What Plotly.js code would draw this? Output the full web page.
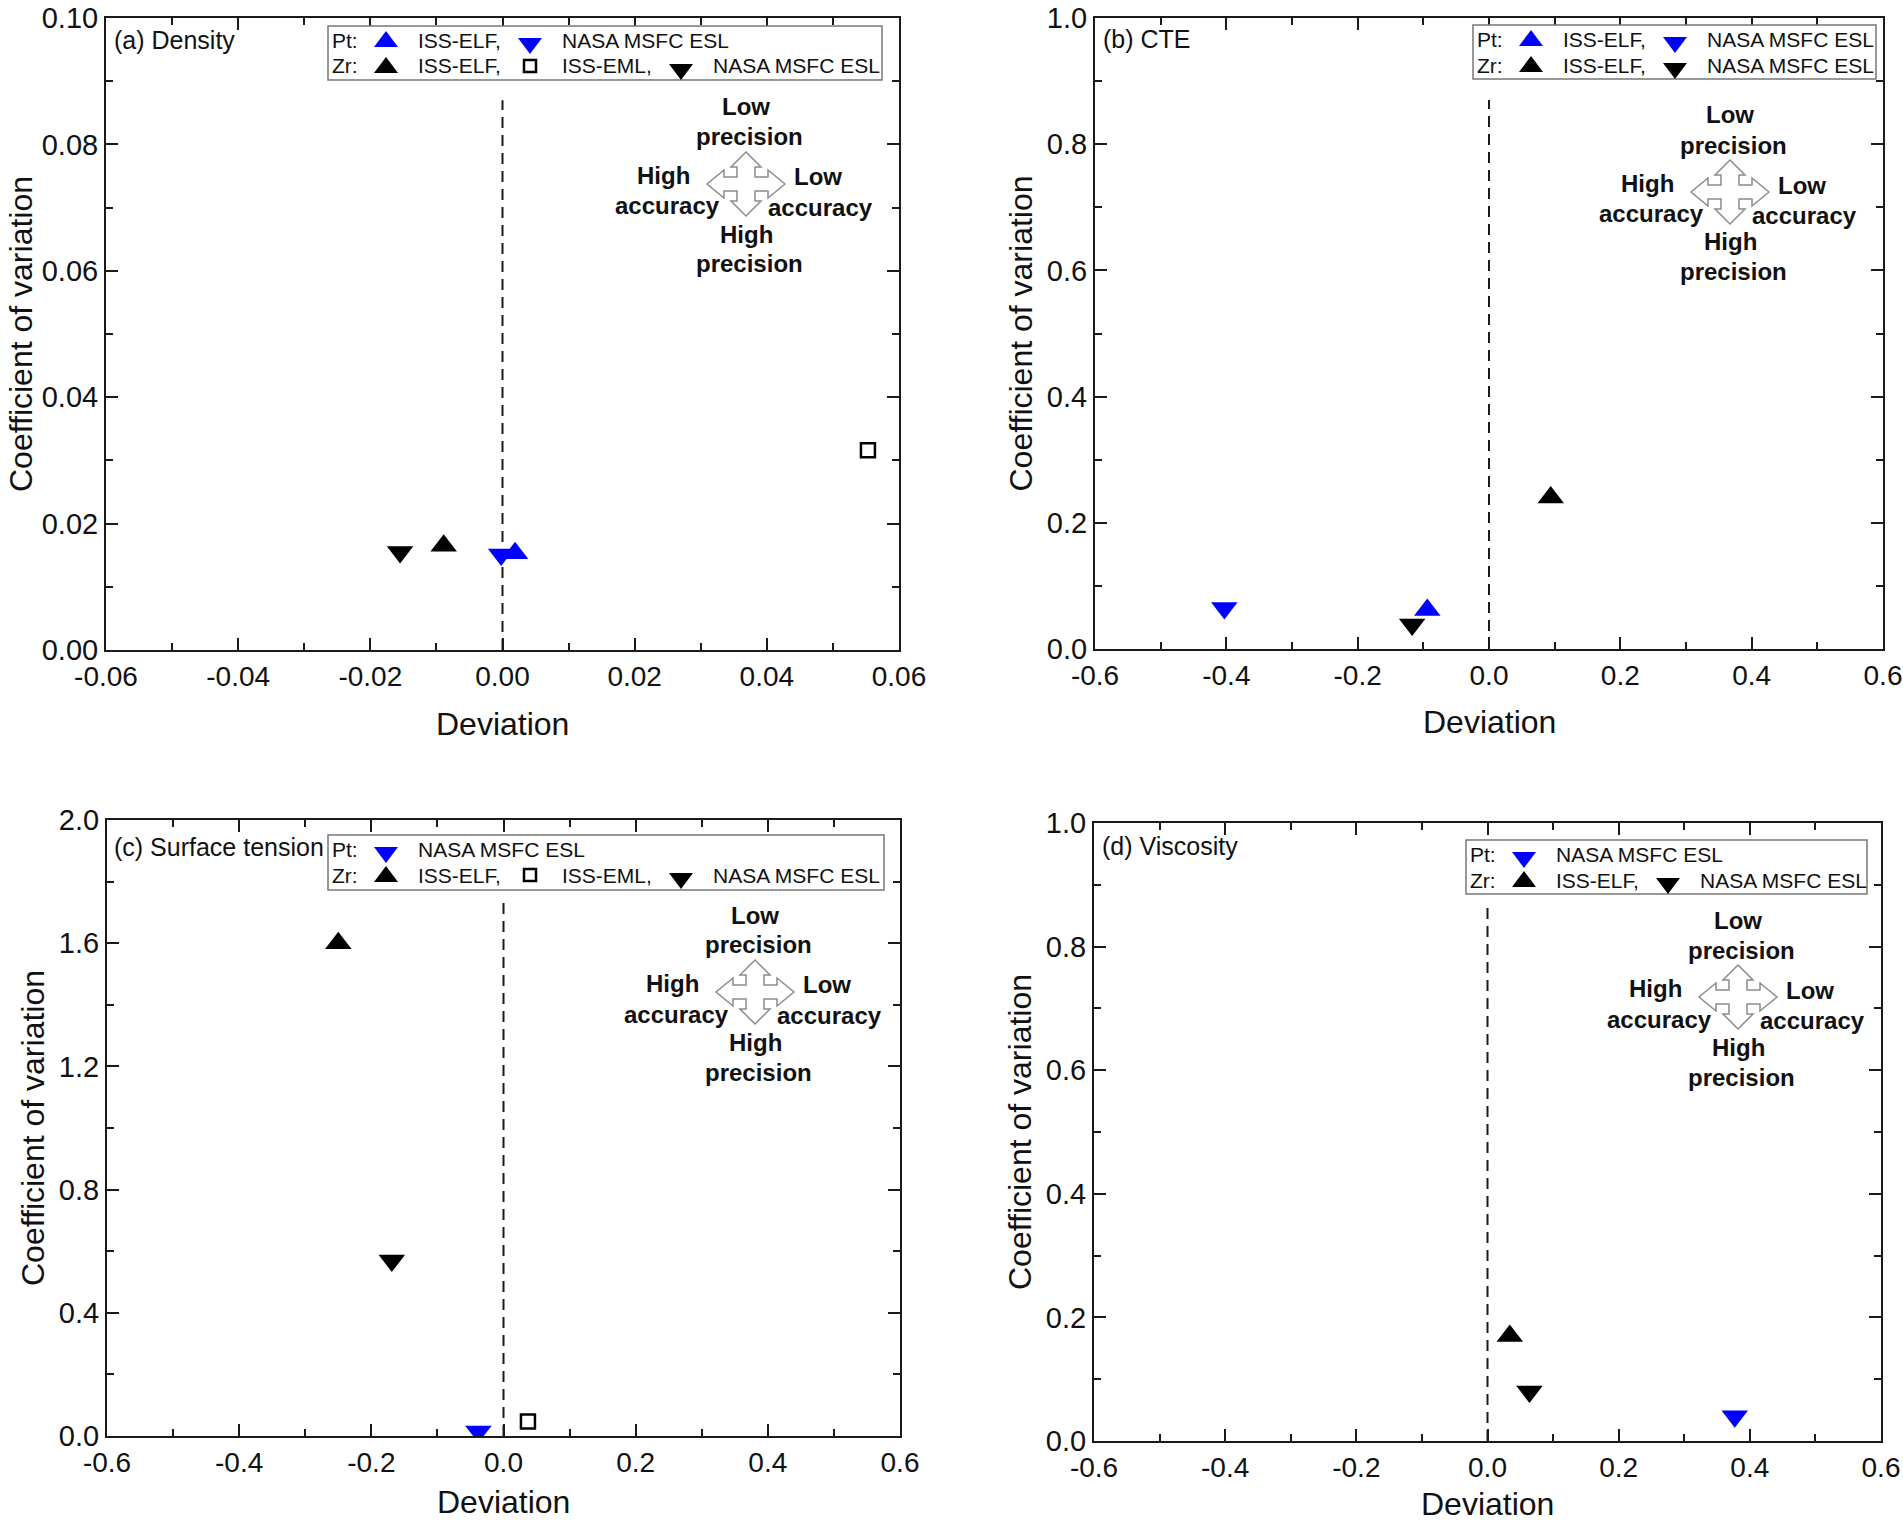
<!DOCTYPE html>
<html><head><meta charset="utf-8">
<script src="https://cdn.plot.ly/plotly-3.0.1.min.js"></script>
<style>html,body{margin:0;padding:0;background:#fff;} #chart{width:1903px;height:1525px;}</style>
</head><body><div id="chart"></div>
<script>
// ================= DATA =================
// (a) Density
const densPtElfX = [0.0019],  densPtElfY = [0.0153];
const densPtEslX = [-0.0002], densPtEslY = [0.0151];
const densZrElfX = [-0.0089], densZrElfY = [0.0165];
const densZrEmlX = [0.0553],  densZrEmlY = [0.0316];
const densZrEslX = [-0.0155], densZrEslY = [0.0155];
// (b) CTE
const ctePtElfX = [-0.094], ctePtElfY = [0.062];
const ctePtEslX = [-0.403], ctePtEslY = [0.065];
const cteZrElfX = [0.094],  cteZrElfY = [0.240];
const cteZrEslX = [-0.117], cteZrEslY = [0.039];
// (c) Surface tension
const stPtEslX = [-0.038], stPtEslY = [0.015];
const stZrElfX = [-0.250], stZrElfY = [1.600];
const stZrEmlX = [0.037],  stZrEmlY = [0.047];
const stZrEslX = [-0.169], stZrEslY = [0.570];
// (d) Viscosity
const viscPtEslX = [0.377], viscPtEslY = [0.040];
const viscZrElfX = [0.034], viscZrElfY = [0.170];
const viscZrEslX = [0.064], viscZrEslY = [0.080];

// reference (zero-deviation) dashed line heights per panel
const refLineTop = [0.087, 0.87, 1.75, 0.87];

// tick values / labels
const densXTicks = [-0.06, -0.04, -0.02, 0, 0.02, 0.04, 0.06];
const densXTickText = ['-0.06', '-0.04', '-0.02', '0.00', '0.02', '0.04', '0.06'];
const densYTicks = [0, 0.02, 0.04, 0.06, 0.08, 0.10];
const densYTickText = ['0.00', '0.02', '0.04', '0.06', '0.08', '0.10'];
const devTicks = [-0.6, -0.4, -0.2, 0, 0.2, 0.4, 0.6];
const devTickText = ['-0.6', '-0.4', '-0.2', '0.0', '0.2', '0.4', '0.6'];
const cvTicks1 = [0, 0.2, 0.4, 0.6, 0.8, 1.0];
const cvTickText1 = ['0.0', '0.2', '0.4', '0.6', '0.8', '1.0'];
const cvTicks2 = [0, 0.4, 0.8, 1.2, 1.6, 2.0];
const cvTickText2 = ['0.0', '0.4', '0.8', '1.2', '1.6', '2.0'];

// texts
const xTitle = 'Deviation', yTitle = 'Coefficient of variation';
const panelTags = ['(a) Density', '(b) CTE', '(c) Surface tension', '(d) Viscosity'];
const legendA = [['Pt:', ['up', 'blue', 'ISS-ELF,'], ['down', 'blue', 'NASA MSFC ESL']],
                 ['Zr:', ['up', 'black', 'ISS-ELF,'], ['sq', 'black', 'ISS-EML,'], ['down', 'black', 'NASA MSFC ESL']]];
const legendB = [['Pt:', ['up', 'blue', 'ISS-ELF,'], ['down', 'blue', 'NASA MSFC ESL']],
                 ['Zr:', ['up', 'black', 'ISS-ELF,'], ['down', 'black', 'NASA MSFC ESL']]];
const legendC = [['Pt:', ['down', 'blue', 'NASA MSFC ESL']],
                 ['Zr:', ['up', 'black', 'ISS-ELF,'], ['sq', 'black', 'ISS-EML,'], ['down', 'black', 'NASA MSFC ESL']]];
const legendD = [['Pt:', ['down', 'blue', 'NASA MSFC ESL']],
                 ['Zr:', ['up', 'black', 'ISS-ELF,'], ['down', 'black', 'NASA MSFC ESL']]];
const guideWords = [['Low', 0, -77], ['precision', 3, -47], ['High', -83, -9], ['accuracy', -79, 22],
                    ['Low', 72, -7], ['accuracy', 74, 23], ['High', 0, 50], ['precision', 3, 80]];

// ================= STYLE / LAYOUT =================
const W = 1903, H = 1525;
const FONT = 'Liberation Sans, Arial, Helvetica, sans-serif';
const BLUE = '#0000ff', BLACK = '#000000', AXC = '#1a1a1a';
const COLORS = {blue: BLUE, black: BLACK};

const panels = [
  {xa: 'x',  ya: 'y',  dom: [106, 899, 18, 650],     arrow: [746, 184],  tagPos: [112, 40],   leg: [328, 26, 882, 80],    xt: 724,  yt: 21,   rows: legendA},
  {xa: 'x2', ya: 'y2', dom: [1095, 1883, 18, 649],   arrow: [1730, 192], tagPos: [1101, 39],  leg: [1473, 25, 1876, 79],  xt: 722,  yt: 1020, rows: legendB},
  {xa: 'x3', ya: 'y3', dom: [107, 900, 820, 1436],   arrow: [755, 992],  tagPos: [112, 847],  leg: [328, 835, 884, 890],  xt: 1502, yt: 33,   rows: legendC},
  {xa: 'x4', ya: 'y4', dom: [1094, 1881, 823, 1441], arrow: [1738, 997], tagPos: [1100, 846], leg: [1466, 840, 1867, 894], xt: 1504, yt: 1020, rows: legendD}
];

function pt(x, y, xa, ya, symbol, color) {
  const open = symbol === 'square-open';
  return {
    x: x, y: y, xaxis: xa, yaxis: ya, type: 'scatter', mode: 'markers', showlegend: false,
    hoverinfo: 'x+y',
    marker: {symbol: symbol, size: open ? 14 : 23, color: color,
             line: {width: open ? 2.5 : 0, color: color}}
  };
}

const data = [
  pt(densZrEmlX, densZrEmlY, 'x', 'y', 'square-open', BLACK),
  pt(densZrEslX, densZrEslY, 'x', 'y', 'triangle-down', BLACK),
  pt(densZrElfX, densZrElfY, 'x', 'y', 'triangle-up', BLACK),
  pt(densPtEslX, densPtEslY, 'x', 'y', 'triangle-down', BLUE),
  pt(densPtElfX, densPtElfY, 'x', 'y', 'triangle-up', BLUE),

  pt(cteZrEslX, cteZrEslY, 'x2', 'y2', 'triangle-down', BLACK),
  pt(cteZrElfX, cteZrElfY, 'x2', 'y2', 'triangle-up', BLACK),
  pt(ctePtEslX, ctePtEslY, 'x2', 'y2', 'triangle-down', BLUE),
  pt(ctePtElfX, ctePtElfY, 'x2', 'y2', 'triangle-up', BLUE),

  pt(stZrEmlX, stZrEmlY, 'x3', 'y3', 'square-open', BLACK),
  pt(stZrEslX, stZrEslY, 'x3', 'y3', 'triangle-down', BLACK),
  pt(stZrElfX, stZrElfY, 'x3', 'y3', 'triangle-up', BLACK),
  pt(stPtEslX, stPtEslY, 'x3', 'y3', 'triangle-down', BLUE),

  pt(viscZrEslX, viscZrEslY, 'x4', 'y4', 'triangle-down', BLACK),
  pt(viscZrElfX, viscZrElfY, 'x4', 'y4', 'triangle-up', BLACK),
  pt(viscPtEslX, viscPtEslY, 'x4', 'y4', 'triangle-down', BLUE)
];

function axis(isX, p, range, tv, tt, minorD, anchor) {
  const d = p.dom;
  return {
    domain: isX ? [d[0] / W, d[1] / W] : [1 - d[3] / H, 1 - d[2] / H],
    anchor: anchor, range: range, tickmode: 'array', tickvals: tv, ticktext: tt,
    ticks: 'inside', ticklen: 12, tickwidth: 2, tickcolor: AXC,
    showline: true, linewidth: 2, linecolor: AXC, mirror: 'ticks',
    minor: {ticks: 'inside', ticklen: 7, tickwidth: 2, tickcolor: AXC, dtick: minorD, tick0: 0, showgrid: false},
    showgrid: false, zeroline: false, automargin: false,
    ticklabeloverflow: 'allow',
    ticklabelstandoff: 0,
    tickfont: {family: FONT, size: isX ? 28 : 29, color: '#111'},
    fixedrange: true
  };
}

const layout = {
  width: W, height: H, margin: {l: 0, r: 0, t: 0, b: 0, pad: 0, autoexpand: false},
  paper_bgcolor: '#fff', plot_bgcolor: '#fff', showlegend: false,
  font: {family: FONT, color: '#111'},
  xaxis:  axis(true,  panels[0], [-0.06, 0.06], densXTicks, densXTickText, 0.01, 'y'),
  yaxis:  axis(false, panels[0], [0, 0.10], densYTicks, densYTickText, 0.01, 'x'),
  xaxis2: axis(true,  panels[1], [-0.6, 0.6], devTicks, devTickText, 0.1, 'y2'),
  yaxis2: axis(false, panels[1], [0, 1.0], cvTicks1, cvTickText1, 0.1, 'x2'),
  xaxis3: axis(true,  panels[2], [-0.6, 0.6], devTicks, devTickText, 0.1, 'y3'),
  yaxis3: axis(false, panels[2], [0, 2.0], cvTicks2, cvTickText2, 0.2, 'x3'),
  xaxis4: axis(true,  panels[3], [-0.6, 0.6], devTicks, devTickText, 0.1, 'y4'),
  yaxis4: axis(false, panels[3], [0, 1.0], cvTicks1, cvTickText1, 0.1, 'x4'),
  shapes: [], annotations: []
};

function px(x) { return x / W; }
function py(y) { return 1 - y / H; }
function txt(text, x, y, size, bold, anchor, angle) {
  return {text: bold ? '<b>' + text + '</b>' : text, xref: 'paper', yref: 'paper', x: px(x), y: py(y),
          xanchor: anchor || 'center', yanchor: 'middle', showarrow: false, textangle: angle || 0,
          font: {family: FONT, size: size, color: '#111'}};
}
function glyph(kind, color, x, y) {
  let path, fill = color, lw = 0;
  if (kind === 'up') path = 'M-12,-7 L12,-7 L0,9 Z';
  else if (kind === 'down') path = 'M-12,7 L12,7 L0,-9 Z';
  else { path = 'M-6,-6 L6,-6 L6,6 L-6,6 Z'; fill = 'rgba(0,0,0,0)'; lw = 2.5; }
  const yShift = kind === 'down' ? 5 : 0;
  return {type: 'path', xref: 'paper', yref: 'paper', xsizemode: 'pixel', ysizemode: 'pixel',
          xanchor: px(x), yanchor: py(y + yShift), path: path, fillcolor: fill,
          line: {color: color, width: lw}, layer: 'above'};
}
const arrowPts = [[0,32],[15,17],[9,17],[9,7],[22,7],[22,14],[39,0],[22,-14],[22,-7],[9,-7],[9,-17],[15,-17],
                  [0,-32],[-15,-17],[-9,-17],[-9,-7],[-22,-7],[-22,-14],[-39,0],[-22,14],[-22,7],[-9,7],[-9,17],[-15,17]];
const arrowPath = 'M' + arrowPts.map(q => q[0] + ',' + q[1]).join(' L') + ' Z';

const glyphCols = [58, 202, 353], textCols = [88, 232, 383];

panels.forEach((p, i) => {
  // axis titles
  layout.annotations.push(txt(xTitle, (p.dom[0] + p.dom[1]) / 2, p.xt, 32, false, 'center'));
  layout.annotations.push(txt(yTitle, p.yt, (p.dom[2] + p.dom[3]) / 2, 32, false, 'center', -90));
  // zero-deviation dashed guide line (data coordinates)
  layout.shapes.push({type: 'line', xref: p.xa, yref: p.ya, x0: 0, x1: 0, y0: 0, y1: refLineTop[i],
                      line: {color: AXC, width: 2, dash: '11px,7px'}, layer: 'below'});
  // legend box
  layout.shapes.push({type: 'rect', xref: 'paper', yref: 'paper', x0: px(p.leg[0]), x1: px(p.leg[2]),
                      y0: py(p.leg[3]), y1: py(p.leg[1]), line: {color: '#777', width: 1.5},
                      fillcolor: 'rgba(255,255,255,1)', layer: 'above'});
  const rowY = [p.leg[1] + 14, p.leg[1] + 40];
  p.rows.forEach((row, r) => {
    layout.annotations.push(txt(row[0], p.leg[0] + 2, rowY[r], 21, false, 'left'));
    row.slice(1).forEach((it, c) => {
      layout.shapes.push(glyph(it[0], COLORS[it[1]], p.leg[0] + glyphCols[c], rowY[r]));
      layout.annotations.push(txt(it[2], p.leg[0] + textCols[c], rowY[r], 21, false, 'left'));
    });
  });
  // panel tag
  layout.annotations.push(txt(panelTags[i], p.tagPos[0], p.tagPos[1], 25, false, 'left'));
  // accuracy / precision guide
  layout.shapes.push({type: 'path', xref: 'paper', yref: 'paper', xsizemode: 'pixel', ysizemode: 'pixel',
                      xanchor: px(p.arrow[0]), yanchor: py(p.arrow[1]), path: arrowPath,
                      fillcolor: '#fff', line: {color: '#8c8c8c', width: 1.5}, layer: 'above'});
  guideWords.forEach(g => layout.annotations.push(txt(g[0], p.arrow[0] + g[1], p.arrow[1] + g[2], 24, true)));
});

Plotly.newPlot('chart', data, layout, {staticPlot: true, displayModeBar: false});
</script>
</body></html>
